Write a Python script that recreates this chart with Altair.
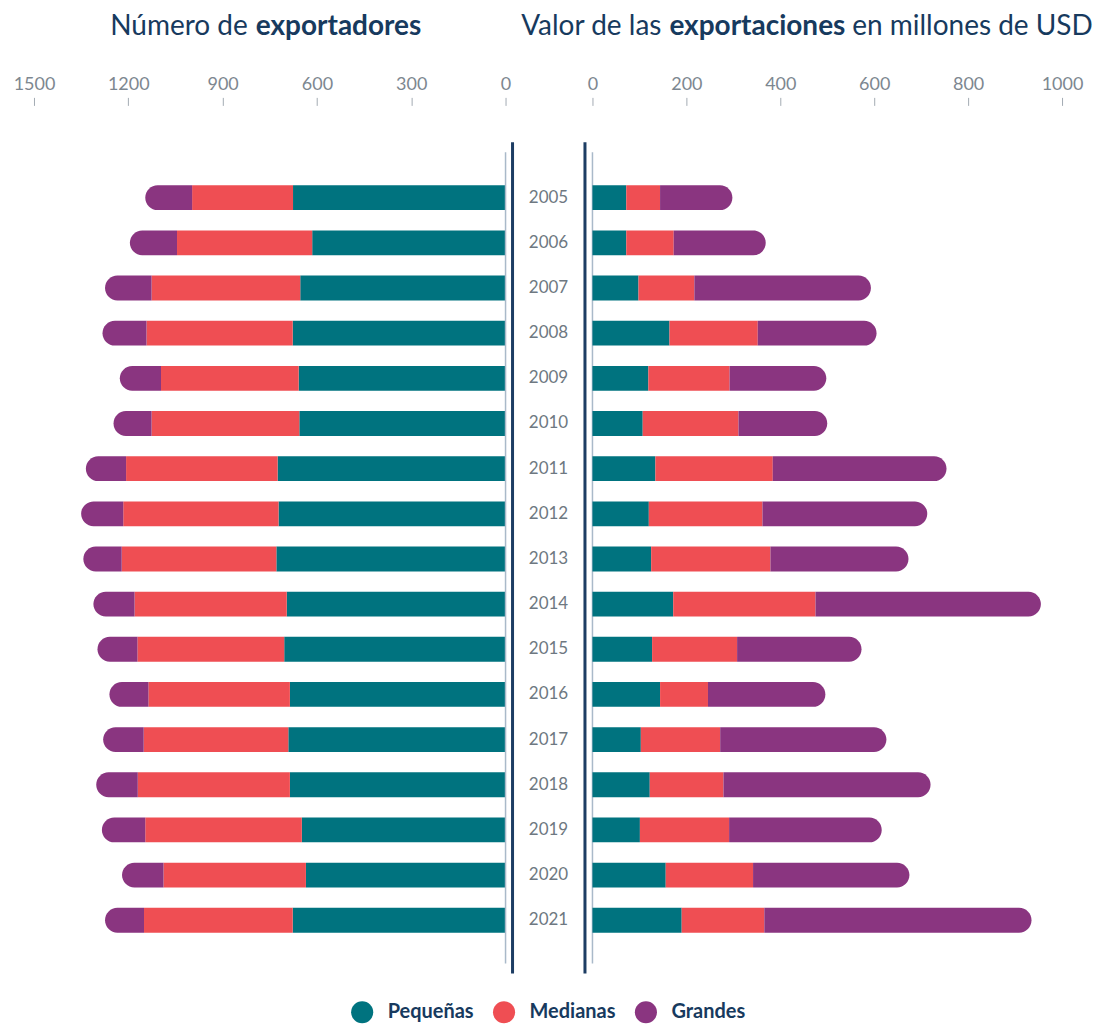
import altair as alt
import pandas as pd

years = [str(y) for y in range(2005, 2022)]
categories = ["Pequeñas", "Medianas", "Grandes"]
palette = ["#00737f", "#ef4e53", "#8a3580"]

# Número de exportadores
exp_peq = [676, 615, 653, 677, 658, 656, 725, 722, 729, 696, 704, 686, 691, 686, 648, 635, 677]
exp_med = [321, 430, 473, 465, 438, 470, 482, 494, 492, 484, 467, 450, 460, 484, 498, 453, 473]
exp_gra = [149, 150, 148, 140, 131, 121, 128, 134, 122, 131, 127, 124, 129, 132, 138, 132, 124]

# Valor de las exportaciones (millones de USD)
val_peq = [72, 72, 98, 164, 119, 107, 134, 120, 125, 172, 127, 144, 103, 122, 101, 156, 190]
val_med = [72, 101, 119, 188, 173, 204, 250, 242, 254, 303, 181, 102, 169, 157, 190, 186, 176]
val_gra = [154, 196, 376, 253, 206, 189, 370, 351, 294, 480, 265, 250, 354, 441, 325, 333, 569]

left_ticks = [0, 300, 600, 900, 1200, 1500]
right_ticks = [0, 200, 400, 600, 800, 1000]

NAVY = "#173a5e"
H = 834
WL, WM, WR = 472, 87, 470
TH = 30  # title row height


def long_df(p, m, g):
    rows = []
    for i, y in enumerate(years):
        s = 0
        for c, v in zip(categories, (p[i], m[i], g[i])):
            rows.append({"year": y, "cat": c, "start": s, "end": s + v})
            s += v
    return pd.DataFrame(rows)


left_df = long_df(exp_peq, exp_med, exp_gra)
right_df = long_df(val_peq, val_med, val_gra)

yscale = alt.Scale(domain=years, paddingInner=0.45, paddingOuter=0.95)
yenc = alt.Y("year:N", scale=yscale, axis=None, sort=years)

color = alt.Color(
    "cat:N",
    scale=alt.Scale(domain=categories, range=palette),
    sort=categories,
    legend=alt.Legend(
        orient="none", legendX=317, legendY=989, direction="horizontal",
        title=None, symbolType="circle", symbolSize=490, symbolStrokeWidth=0,
        symbolOpacity=1, labelFont="Lato", labelFontSize=20,
        labelFontWeight="bold", labelColor=NAVY, columnPadding=18,
        labelOffset=14, padding=0,
    ),
)


def axis(vals):
    return alt.Axis(
        values=vals, orient="top", offset=37, domain=False, grid=False,
        ticks=True, tickSize=8, tickColor="#a3abb3", tickWidth=1,
        labelFont="Lato", labelFontSize=18, labelColor="#7d8790",
        labelPadding=4, labelFlush=False, title=None, format="d",
    )


def title_text(txt, xpos, align, weight):
    return (
        alt.Chart(pd.DataFrame({"t": [txt]}))
        .mark_text(font="Lato", fontSize=28, fontWeight=weight, color=NAVY,
                   align=align, baseline="middle")
        .encode(x=alt.value(xpos), y=alt.value(15), text="t:N")
    )


R0 = WL + WM  # left edge of the right panel in title-row coordinates
title_row = alt.layer(
    title_text("Número de", 214, "right", "normal"),
    title_text("exportadores", 222, "left", "bold"),
    title_text("Valor de las", R0 + 69, "right", "normal"),
    title_text("exportaciones", R0 + 77, "left", "bold"),
    title_text("en millones de USD", R0 + 260, "left", "normal"),
).properties(width=1066, height=TH)

# ---- left panel
xl = alt.X("start:Q", scale=alt.Scale(domain=[0, 1500], reverse=True, nice=False),
           axis=axis(left_ticks), title=None)
lb = alt.Chart(left_df)
left_main = lb.transform_filter("datum.cat != 'Grandes'").mark_bar().encode(
    x=xl, x2="end:Q", y=yenc, color=color)
left_cap = lb.transform_filter("datum.cat == 'Grandes'").mark_bar(
    cornerRadiusTopLeft=12.5, cornerRadiusBottomLeft=12.5).encode(
    x=xl, x2="end:Q", y=yenc, color=color)
left = alt.layer(left_main, left_cap).properties(width=WL, height=H)

# ---- middle column
mid_text = alt.Chart(pd.DataFrame({"year": years})).mark_text(
    font="Lato", fontSize=17, color="#6e7881", align="center", baseline="middle"
).encode(y=yenc, x=alt.value(43), text="year:N")


def rule(xpos, y0, y1, col, w):
    return alt.Chart(pd.DataFrame({"a": [0]})).mark_rule(
        color=col, strokeWidth=w).encode(
        x=alt.value(xpos), y=alt.value(y0), y2=alt.value(y1))


mid = alt.layer(
    mid_text,
    rule(0, 10, H - 12, "#a9b9c9", 1.5),
    rule(WM, 10, H - 12, "#a9b9c9", 1.5),
    rule(7, 0, H - 2, "#1d3d63", 3),
    rule(WM - 7.5, 0, H - 2, "#1d3d63", 3),
).properties(width=WM, height=H)

# ---- right panel
xr = alt.X("start:Q", scale=alt.Scale(domain=[0, 1000], nice=False),
           axis=axis(right_ticks), title=None)
rb = alt.Chart(right_df)
right_main = rb.transform_filter("datum.cat != 'Grandes'").mark_bar().encode(
    x=xr, x2="end:Q", y=yenc, color=color)
right_cap = rb.transform_filter("datum.cat == 'Grandes'").mark_bar(
    cornerRadiusTopRight=12.5, cornerRadiusBottomRight=12.5).encode(
    x=xr, x2="end:Q", y=yenc, color=color)
right = alt.layer(right_main, right_cap).properties(width=WR, height=H)

panels = alt.hconcat(left, mid, right, spacing=0, bounds="flush").resolve_scale(
    x="independent", y="shared", color="shared")

chart = (
    alt.vconcat(title_row, panels, spacing=100, bounds="flush")
    .resolve_scale(color="shared")
    .properties(padding={"left": 5, "top": 4, "right": 0, "bottom": 0})
    .configure_view(stroke=None)
)

chart.save("out.html", embed_options={"renderer": "svg", "actions": False})
